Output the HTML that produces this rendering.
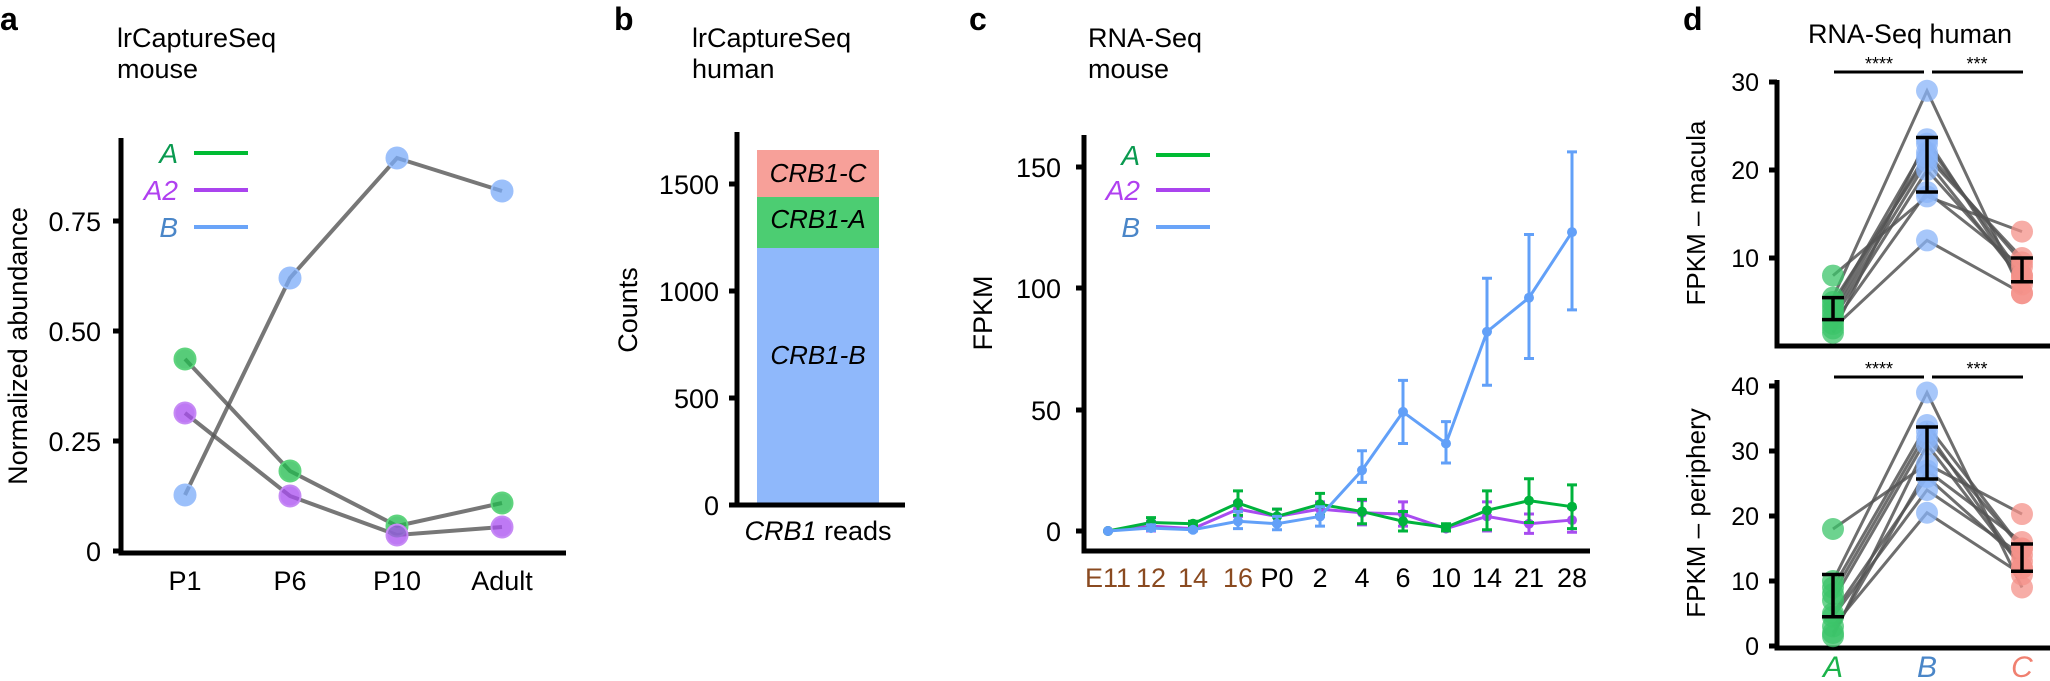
<!DOCTYPE html>
<html><head><meta charset="utf-8"><style>
html,body{margin:0;padding:0;background:#fff;}
svg{display:block;font-family:"Liberation Sans",Arial,sans-serif;}
</style></head><body>
<svg id="s" width="2050" height="681" viewBox="0 0 2050 681" xmlns="http://www.w3.org/2000/svg">
<rect width="2050" height="681" fill="#fff"/>
<g font-size="27" fill="#000">
<text x="0" y="30" font-weight="bold" font-size="32">a</text>
<text x="117" y="47">lrCaptureSeq</text><text x="117" y="78">mouse</text>
<text x="614" y="30" font-weight="bold" font-size="32">b</text>
<text x="692" y="47">lrCaptureSeq</text><text x="692" y="78">human</text>
<text x="969" y="30" font-weight="bold" font-size="32">c</text>
<text x="1088" y="47">RNA-Seq</text><text x="1088" y="78">mouse</text>
<text x="1683" y="30" font-weight="bold" font-size="32">d</text>
<text x="1910" y="43" text-anchor="middle">RNA-Seq human</text>
</g>

<g stroke="#000" stroke-width="5" fill="none">
<path d="M121 138 V553 H566"/>
<path d="M113 221 H121 M113 331 H121 M113 441 H121 M113 551 H121"/>
</g>
<g font-size="27" text-anchor="end">
<text x="101" y="231">0.75</text><text x="101" y="341">0.50</text><text x="101" y="451">0.25</text><text x="101" y="561">0</text>
</g>
<g font-size="27" text-anchor="middle">
<text x="185" y="590">P1</text><text x="290" y="590">P6</text><text x="397" y="590">P10</text><text x="502" y="590">Adult</text>
</g>
<text transform="translate(27,346) rotate(-90)" font-size="27" text-anchor="middle">Normalized abundance</text>
<g font-size="28" font-style="italic" text-anchor="end">
<text x="178" y="163" fill="#0a9a50">A</text>
<text x="178" y="200" fill="#b040f0">A2</text>
<text x="178" y="237" fill="#4a86c8">B</text>
</g>
<g stroke-width="4"><path d="M194 153H248" stroke="#00bb33"/><path d="M194 190H248" stroke="#aa44ee"/><path d="M194 227H248" stroke="#6aa4f8"/></g>
<g stroke="#555" stroke-opacity="0.8" stroke-width="4" fill="none">
<polyline points="185,495 290,278 397,158 502,191"/>
<polyline points="185,359 290,471 397,526 502,503"/>
<polyline points="185,413 290,496 397,535 502,527"/>
</g>
<g fill-opacity="0.75" stroke-width="2">
<g fill="#7aabf8" stroke="#9cc0fb"><circle cx="185" cy="495" r="10.5"/><circle cx="290" cy="278" r="10.5"/><circle cx="397" cy="158" r="10.5"/><circle cx="502" cy="191" r="10.5"/></g>
<g fill="#1fbb4c" stroke="#5fd47e"><circle cx="185" cy="359" r="10.5"/><circle cx="290" cy="471" r="10.5"/><circle cx="397" cy="526" r="10.5"/><circle cx="502" cy="503" r="10.5"/></g>
<g fill="#a84cf0" stroke="#c68af5"><circle cx="185" cy="413" r="10.5"/><circle cx="290" cy="496" r="10.5"/><circle cx="397" cy="535" r="10.5"/><circle cx="502" cy="527" r="10.5"/></g>
</g>

<rect x="757" y="248" width="122" height="257" fill="#8fb8fb"/>
<rect x="757" y="197" width="122" height="51" fill="#4ccd72"/>
<rect x="757" y="150" width="122" height="47" fill="#f7a099"/>
<g stroke="#000" stroke-width="5" fill="none">
<path d="M737 132 V505 H905"/>
<path d="M729 184H737 M729 291H737 M729 398H737 M729 505H737"/>
</g>
<g font-size="27" text-anchor="end">
<text x="719" y="194">1500</text><text x="719" y="301">1000</text><text x="719" y="408">500</text><text x="719" y="515">0</text>
</g>
<g font-size="26" font-style="italic" text-anchor="middle">
<text x="818" y="182">CRB1-C</text><text x="818" y="228">CRB1-A</text><text x="818" y="364">CRB1-B</text>
</g>
<text transform="translate(637,310) rotate(-90)" font-size="27" text-anchor="middle">Counts</text>
<text x="818" y="540" font-size="27" text-anchor="middle"><tspan font-style="italic">CRB1</tspan> reads</text>

<g stroke="#000" stroke-width="5" fill="none">
<path d="M1084 135 V551 H1590"/>
<path d="M1076 167H1084 M1076 288H1084 M1076 410H1084 M1076 531H1084"/>
</g>
<g font-size="27" text-anchor="end">
<text x="1061" y="177">150</text><text x="1061" y="298">100</text><text x="1061" y="420">50</text><text x="1061" y="541">0</text>
</g>
<text transform="translate(992,313) rotate(-90)" font-size="27" text-anchor="middle">FPKM</text>
<g font-size="27" text-anchor="middle">
<g fill="#8a4a20"><text x="1108" y="587">E11</text><text x="1151" y="587">12</text><text x="1193" y="587">14</text><text x="1238" y="587">16</text></g>
<text x="1277" y="587">P0</text><text x="1320" y="587">2</text><text x="1362" y="587">4</text><text x="1403" y="587">6</text><text x="1446" y="587">10</text><text x="1487" y="587">14</text><text x="1529" y="587">21</text><text x="1572" y="587">28</text>
</g>
<g font-size="28" font-style="italic" text-anchor="end">
<text x="1140" y="165" fill="#0a9a50">A</text>
<text x="1140" y="200" fill="#b040f0">A2</text>
<text x="1140" y="237" fill="#4a86c8">B</text>
</g>
<g stroke-width="4"><path d="M1156 155H1210" stroke="#00bb33"/><path d="M1156 190H1210" stroke="#aa44ee"/><path d="M1156 227H1210" stroke="#6aa4f8"/></g>
<g id="cser"></g>

<g stroke="#000" stroke-width="5" fill="none">
<path d="M1777 80 V346 H2050"/>
<path d="M1769 82H1777 M1769 170H1777 M1769 258H1777"/>
<path d="M1777 380 V648 H2050"/>
<path d="M1769 386H1777 M1769 451H1777 M1769 516H1777 M1769 581H1777 M1769 646H1777"/>
<path d="M1834 72H1924 M1932 72H2023 M1834 377H1924 M1932 377H2023" stroke-width="3"/>
</g>
<g font-size="18" text-anchor="middle"><text x="1879" y="70">****</text><text x="1977" y="70">***</text><text x="1879" y="375">****</text><text x="1977" y="375">***</text></g>
<g font-size="25" text-anchor="end">
<text x="1759" y="91">30</text><text x="1759" y="179">20</text><text x="1759" y="267">10</text>
<text x="1759" y="395">40</text><text x="1759" y="460">30</text><text x="1759" y="525">20</text><text x="1759" y="590">10</text><text x="1759" y="655">0</text>
</g>
<text transform="translate(1705,213) rotate(-90)" font-size="26" text-anchor="middle">FPKM – macula</text>
<text transform="translate(1705,513) rotate(-90)" font-size="26" text-anchor="middle">FPKM – periphery</text>
<g font-size="30" font-style="italic" text-anchor="middle">
<text x="1833" y="677" fill="#1bb34a">A</text><text x="1927" y="677" fill="#4a86c8">B</text><text x="2022" y="677" fill="#f08070">C</text>
</g>
<g id="dser"></g>
</svg>
<script>
var NS="http://www.w3.org/2000/svg";
function el(p,t,a){var e=document.createElementNS(NS,t);for(var k in a)e.setAttribute(k,a[k]);p.appendChild(e);return e;}
var cg=document.getElementById("cser");
var xs=[1108,1151,1193,1238,1277,1320,1362,1403,1446,1487,1529,1572];
function yc(v){return 531-2.43*v;}
var S=[
 {c:"#a84cf0",v:[0,2,1,9,6,9,7.5,7,1,6,3,4.5],e:[0,2,1,3,3,3,5,5,1,6,4,5]},
 {c:"#00b33c",v:[0,3.5,3,11.5,6,11,8,4,1.5,8.5,12.5,10],e:[0,2,1,5,3,4.5,5,4,1.5,8,9,9]},
 {c:"#62a0f8",v:[0,1.2,0.5,4,3,6,25,49,36,82,96,123],lo:[0,0.2,0,1,0.5,2,20,36,28,60,71,91],hi:[0,2.5,1,8,6,10,33,62,45,104,122,156]}
];
S.forEach(function(s){
 var pts=[];
 for(var i=0;i<12;i++){
  var lo=s.lo?s.lo[i]:s.v[i]-s.e[i], hi=s.hi?s.hi[i]:s.v[i]+s.e[i];
  var x=xs[i];
  if(hi-lo>0.5){
   el(cg,"path",{d:"M"+x+" "+yc(lo)+"V"+yc(hi)+"M"+(x-5)+" "+yc(lo)+"h10M"+(x-5)+" "+yc(hi)+"h10",stroke:s.c,"stroke-width":3,fill:"none"});
  }
  pts.push(x+","+yc(s.v[i]));
 }
 el(cg,"polyline",{points:pts.join(" "),stroke:s.c,"stroke-width":3,fill:"none"});
 for(var i=0;i<12;i++)el(cg,"circle",{cx:xs[i],cy:yc(s.v[i]),r:5,fill:s.c});
});
var dg=document.getElementById("dser");
var XA=1833,XB=1927,XC=2022;
function panel(A,B,C,yf,eA,eB,eC){
 for(var i=0;i<A.length;i++){
  el(dg,"polyline",{points:XA+","+yf(A[i])+" "+XB+","+yf(B[i])+" "+XC+","+yf(C[i]),stroke:"#555","stroke-opacity":0.85,"stroke-width":3,fill:"none"});
 }
 [[A,XA,"#3cc46a"],[B,XB,"#8ab4f8"],[C,XC,"#f4928a"]].forEach(function(g){
  g[0].forEach(function(v){el(dg,"circle",{cx:g[1],cy:yf(v),r:11,fill:g[2],"fill-opacity":0.75});});
 });
 [[eA,XA],[eB,XB],[eC,XC]].forEach(function(e){
  var x=e[1],a=yf(e[0][0]),b=yf(e[0][1]);
  el(dg,"path",{d:"M"+x+" "+a+"V"+b+"M"+(x-11)+" "+a+"h22M"+(x-11)+" "+b+"h22",stroke:"#000","stroke-width":3.5,fill:"none"});
 });
}
panel([8,5.5,4.5,4,3.5,3,2.5,2,1.5,5],[17,29,23,22,21,20,17.5,12,23.5,21.5],[13,6,8,9.5,7.5,8,9,6,7,10],
 function(v){return 346-8.8*v;},[3,5.5],[17.5,23.7],[7.3,10]);
panel([18,10,8,7,5,4.5,3,2,1.5,9],[28,39,33,32,26,24,20.5,27,31,34],[20.3,9,12,15,13,14,11,16,12,15],
 function(v){return 646-6.5*v;},[4.5,11],[25.7,33.7],[11.5,15.7]);
</script>
</body></html>
